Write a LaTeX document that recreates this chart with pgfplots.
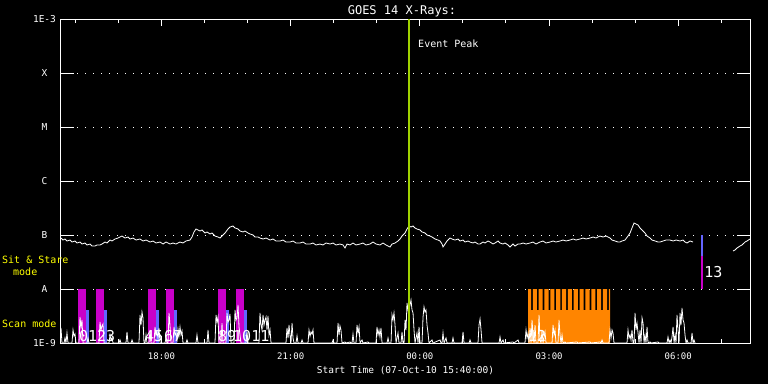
\documentclass[border=0pt]{standalone}
\usepackage{fontspec}
\setmainfont{DejaVu Sans Mono}
\usepackage{pgfplots}
\pgfplotsset{compat=1.18}
\definecolor{scanmag}{RGB}{200,0,200}
\definecolor{scanblue}{RGB}{100,100,255}
\definecolor{scanorange}{RGB}{255,133,0}
\definecolor{peakgreen}{RGB}{160,210,0}
\definecolor{labyellow}{RGB}{255,255,0}
\begin{document}
\begin{tikzpicture}
\path[use as bounding box, fill=black] (0,0) rectangle (768pt,384pt);
\begin{axis}[
  at={(61pt,41pt)}, anchor=south west,
  width=689pt, height=324pt, scale only axis,
  xmin=0, xmax=16, ymin=-9, ymax=-3,
  axis line style={white, line width=1pt},
  tick align=inside,
  major tick length=7pt, minor tick length=4pt,
  tick style={white, line width=1pt},
  xtick={2.3333,5.3333,8.3333,11.3333,14.3333},
  xticklabels={18:00,21:00,00:00,03:00,06:00},
  minor xtick={0.3333,1.3333,3.3333,4.3333,6.3333,7.3333,9.3333,10.3333,12.3333,13.3333,15.3333},
  ytick={-9,-8,-7,-6,-5,-4,-3},
  yticklabels={1E-9,A,B,C,M,X,1E-3},
  ytick style={/pgfplots/major tick length=13pt},
  ymajorgrids,
  major grid style={white, line width=1pt, dash pattern=on 1pt off 7pt},
  xticklabel style={font=\fontsize{9}{10}\selectfont, text=white, anchor=base, yshift=-16pt},
  yticklabel style={font=\fontsize{9.5}{11}\selectfont, text=white, anchor=center, xshift=-16.5pt},
  title={GOES 14 X-Rays:},
  every axis title/.style={at={(0.5,1)}, anchor=base, yshift=5pt, xshift=-3.5pt, font=\fontsize{12}{14}\selectfont, text=white},
  xlabel={Start Time (07-Oct-10 15:40:00)},
  every axis x label/.style={at={(0.5,0)}, anchor=base, yshift=-30pt, font=\fontsize{9.5}{11}\selectfont, text=white},
]
% scan bars (magenta) and (blue)
\addplot[fill=scanmag, draw=none] coordinates {(0.395,-9) (0.395,-8) (0.581,-8) (0.581,-9)};
\addplot[fill=scanblue, draw=none] coordinates {(0.581,-9) (0.581,-8.389) (0.650,-8.389) (0.650,-9)};
\addplot[fill=scanmag, draw=none] coordinates {(0.813,-9) (0.813,-8) (0.999,-8) (0.999,-9)};
\addplot[fill=scanblue, draw=none] coordinates {(0.999,-9) (0.999,-8.389) (1.068,-8.389) (1.068,-9)};
\addplot[fill=scanmag, draw=none] coordinates {(2.020,-9) (2.020,-8) (2.206,-8) (2.206,-9)};
\addplot[fill=scanblue, draw=none] coordinates {(2.206,-9) (2.206,-8.389) (2.276,-8.389) (2.276,-9)};
\addplot[fill=scanmag, draw=none] coordinates {(2.438,-9) (2.438,-8) (2.624,-8) (2.624,-9)};
\addplot[fill=scanblue, draw=none] coordinates {(2.624,-9) (2.624,-8.389) (2.694,-8.389) (2.694,-9)};
\addplot[fill=scanmag, draw=none] coordinates {(3.646,-9) (3.646,-8) (3.832,-8) (3.832,-9)};
\addplot[fill=scanblue, draw=none] coordinates {(3.832,-9) (3.832,-8.389) (3.902,-8.389) (3.902,-9)};
\addplot[fill=scanmag, draw=none] coordinates {(4.064,-9) (4.064,-8) (4.250,-8) (4.250,-9)};
\addplot[fill=scanblue, draw=none] coordinates {(4.250,-9) (4.250,-8.389) (4.320,-8.389) (4.320,-9)};
% orange scan block
\addplot[fill=scanorange, draw=none] coordinates {
(10.845,-9) (10.845,-8)
(10.915,-8) (10.915,-8.389) (10.955,-8.389) (10.955,-8)
(11.051,-8) (11.051,-8.389) (11.091,-8.389) (11.091,-8)
(11.187,-8) (11.187,-8.389) (11.227,-8.389) (11.227,-8)
(11.323,-8) (11.323,-8.389) (11.363,-8.389) (11.363,-8)
(11.459,-8) (11.459,-8.389) (11.499,-8.389) (11.499,-8)
(11.594,-8) (11.594,-8.389) (11.634,-8.389) (11.634,-8)
(11.730,-8) (11.730,-8.389) (11.770,-8.389) (11.770,-8)
(11.866,-8) (11.866,-8.389) (11.906,-8.389) (11.906,-8)
(12.002,-8) (12.002,-8.389) (12.042,-8.389) (12.042,-8)
(12.138,-8) (12.138,-8.389) (12.178,-8.389) (12.178,-8)
(12.274,-8) (12.274,-8.389) (12.314,-8.389) (12.314,-8)
(12.409,-8) (12.409,-8.389) (12.449,-8.389) (12.449,-8)
(12.545,-8) (12.545,-8.389) (12.585,-8.389) (12.585,-8)
(12.681,-8) (12.681,-8.389) (12.721,-8.389) (12.721,-8)
(12.750,-8) (12.750,-9)};
% sit & stare
\addplot[fill=scanblue, draw=none] coordinates {(14.863,-7.389) (14.863,-7) (14.909,-7) (14.909,-7.389)};
\addplot[fill=scanmag, draw=none] coordinates {(14.863,-8) (14.863,-7.389) (14.909,-7.389) (14.909,-8)};
% low channel spikes
\addplot[white, line width=0.8pt] coordinates {
(0.000,-8.722) (0.023,-9) (0.070,-9) (0.093,-8.907) (0.116,-9) (0.139,-8.815) (0.163,-9)
(0.255,-9) (0.279,-8.759) (0.302,-8.870) (0.325,-8.833) (0.348,-9)
(0.418,-9) (0.441,-8.519) (0.464,-8.704) (0.488,-8.574) (0.511,-9)
(0.604,-9) (0.627,-8.907) (0.650,-9)
(0.882,-9) (0.906,-8.611) (0.929,-8.759) (0.952,-8.685) (0.975,-8.648) (0.999,-9)
(1.115,-9) (1.138,-8.852) (1.161,-8.944) (1.184,-8.907) (1.208,-9)
(1.347,-9) (1.370,-8.944) (1.393,-9)
(1.509,-9) (1.533,-8.796) (1.556,-9)
(1.626,-9) (1.649,-8.944) (1.672,-9)
(1.811,-9) (1.835,-8.481) (1.858,-8.667) (1.881,-8.426) (1.904,-8.537) (1.927,-9)
(1.951,-9) (1.974,-8.852) (1.997,-9)
(2.044,-9) (2.067,-8.759) (2.090,-9)
(2.160,-9) (2.183,-8.704) (2.206,-8.852) (2.229,-8.796) (2.253,-8.907) (2.276,-8.722) (2.299,-9)
(2.415,-9) (2.438,-8.907) (2.462,-9)
(2.485,-9) (2.508,-8.444) (2.531,-8.667) (2.555,-9)
(2.601,-9) (2.624,-8.704) (2.647,-8.852) (2.671,-8.815) (2.694,-8.944) (2.717,-8.741) (2.740,-8.870) (2.764,-8.704) (2.787,-8.852) (2.810,-8.778) (2.833,-9)
(2.903,-9) (2.926,-8.944) (2.949,-9)
(3.135,-9) (3.158,-8.852) (3.182,-9)
(3.391,-9) (3.414,-8.759) (3.437,-9)
(3.576,-9) (3.600,-8.481) (3.623,-8.611) (3.646,-8.519) (3.669,-9)
(3.716,-9) (3.739,-8.630) (3.762,-9)
(3.832,-9) (3.855,-8.444) (3.878,-8.611) (3.902,-8.574) (3.925,-8.463) (3.948,-9)
(4.018,-9) (4.041,-8.389) (4.064,-8.574) (4.087,-8.537) (4.111,-8.296) (4.134,-8.704) (4.157,-8.852) (4.180,-9)
(4.296,-9) (4.320,-8.796) (4.343,-9)
(4.598,-9) (4.621,-8.444) (4.645,-8.667) (4.668,-8.759) (4.691,-8.481) (4.714,-8.667) (4.737,-8.574) (4.761,-8.519) (4.784,-8.759) (4.807,-8.500) (4.830,-8.852) (4.854,-8.759) (4.877,-9)
(5.225,-9) (5.248,-8.722) (5.272,-8.907) (5.295,-8.667) (5.318,-8.852) (5.341,-9) (5.365,-8.630) (5.388,-8.907) (5.411,-9)
(5.457,-9) (5.481,-8.870) (5.504,-9)
(5.574,-9) (5.597,-8.944) (5.620,-9)
(5.736,-9) (5.759,-8.759) (5.783,-8.870) (5.806,-8.796) (5.829,-8.833) (5.852,-8.759) (5.875,-9)
(6.293,-9) (6.317,-8.944) (6.340,-9)
(6.410,-9) (6.433,-8.630) (6.456,-8.852) (6.479,-8.685) (6.502,-8.759) (6.526,-9)
(6.595,-8.981) (6.619,-9) (6.711,-8.981) (6.735,-9)
(6.758,-9) (6.781,-8.833) (6.804,-9)
(6.851,-9) (6.874,-8.667) (6.898,-8.815) (6.921,-8.704) (6.944,-9)
(6.990,-8.944) (7.013,-9) (7.129,-8.981) (7.153,-9)
(7.315,-9) (7.338,-8.704) (7.362,-8.852) (7.385,-8.759) (7.408,-8.889) (7.431,-8.722) (7.455,-9)
(7.571,-9) (7.594,-8.907) (7.617,-9)
(7.664,-9) (7.687,-8.481) (7.710,-8.574) (7.733,-8.444) (7.757,-8.667) (7.780,-9)
(7.826,-8.815) (7.849,-9)
(7.896,-9) (7.919,-8.796) (7.942,-9)
(7.966,-9) (7.989,-8.574) (8.012,-8.759) (8.035,-8.259) (8.059,-8.389) (8.082,-8.167) (8.105,-8.296) (8.128,-8.204) (8.151,-8.389) (8.175,-8.444) (8.198,-8.759) (8.221,-9)
(8.267,-8.815) (8.291,-9) (8.314,-8.704) (8.337,-9)
(8.384,-9) (8.407,-8.519) (8.430,-8.333) (8.453,-8.426) (8.476,-8.389) (8.500,-8.667) (8.523,-8.815) (8.546,-9)
(8.616,-8.944) (8.639,-9)
(8.802,-8.944) (8.825,-9)
(8.848,-9) (8.871,-8.815) (8.895,-9) (8.941,-8.907) (8.964,-9)
(9.080,-9) (9.103,-8.907) (9.127,-9)
(9.312,-9) (9.336,-8.796) (9.359,-9)
(9.475,-9) (9.498,-8.944) (9.521,-9)
(9.684,-9) (9.707,-8.667) (9.731,-8.556) (9.754,-8.759) (9.777,-9)
(10.172,-9) (10.195,-8.889) (10.218,-9) (10.265,-8.944) (10.288,-9)
(10.497,-8.981) (10.520,-9) (10.613,-8.944) (10.636,-9)
(10.775,-9) (10.799,-8.759) (10.822,-8.907) (10.845,-8.815) (10.868,-9) (10.892,-8.722) (10.915,-9) (10.938,-8.574) (10.961,-8.852) (10.985,-9) (11.008,-8.667) (11.031,-9)
(11.077,-9) (11.101,-8.481) (11.124,-8.944) (11.147,-9) (11.170,-8.759) (11.193,-9) (11.240,-8.796) (11.263,-9)
(11.403,-9) (11.426,-8.667) (11.449,-8.852) (11.472,-8.759) (11.495,-9)
(11.542,-9) (11.565,-8.574) (11.588,-8.852) (11.612,-9) (11.635,-8.852) (11.658,-9) (11.704,-8.981) (11.728,-9)
(11.983,-8.981) (12.006,-9) (12.285,-8.981) (12.308,-9) (12.517,-8.981) (12.540,-9) (12.564,-8.944) (12.587,-9)
(12.726,-9) (12.749,-8.759) (12.773,-8.907) (12.796,-8.759) (12.819,-8.815) (12.842,-9)
(13.144,-9) (13.167,-8.759) (13.191,-8.907) (13.214,-8.852) (13.237,-8.944) (13.260,-8.759) (13.284,-9)
(13.307,-9) (13.330,-8.444) (13.353,-8.759) (13.376,-8.630) (13.400,-8.815) (13.423,-9) (13.446,-8.759) (13.469,-9) (13.493,-8.537) (13.516,-8.630) (13.539,-9) (13.562,-8.852) (13.585,-9) (13.609,-8.704) (13.632,-9)
(13.679,-8.981) (13.702,-9) (13.864,-8.981) (13.887,-9)
(14.073,-9) (14.096,-8.889) (14.120,-9) (14.143,-8.944) (14.166,-9) (14.189,-8.889) (14.213,-8.704) (14.236,-9) (14.259,-8.852) (14.282,-9)
(14.305,-8.481) (14.329,-8.759) (14.352,-9) (14.375,-8.444) (14.398,-8.667) (14.421,-8.352) (14.445,-8.574) (14.468,-8.630) (14.491,-8.852) (14.514,-9)
(14.538,-8.944) (14.561,-9) (14.631,-9) (14.654,-8.815) (14.677,-9) (14.700,-8.944) (14.723,-9)};
% GOES flux (long channel)
\addplot[white, line width=0.8pt] coordinates {
(0.000,-7.056) (0.046,-7.093) (0.093,-7.074) (0.139,-7.111) (0.209,-7.093) (0.255,-7.130) (0.325,-7.111) (0.372,-7.148)
(0.441,-7.130) (0.488,-7.167) (0.557,-7.148) (0.604,-7.185) (0.673,-7.167) (0.720,-7.204) (0.790,-7.204) (0.836,-7.185)
(0.906,-7.185) (0.952,-7.167) (1.022,-7.130) (1.068,-7.148) (1.138,-7.093) (1.184,-7.111) (1.254,-7.074) (1.324,-7.056)
(1.370,-7.037) (1.417,-7.019) (1.486,-7.056) (1.556,-7.037) (1.602,-7.074) (1.672,-7.056) (1.742,-7.093) (1.835,-7.074)
(1.904,-7.111) (1.974,-7.093) (2.067,-7.130) (2.137,-7.111) (2.206,-7.148) (2.299,-7.130) (2.369,-7.167) (2.438,-7.130)
(2.531,-7.167) (2.601,-7.148) (2.671,-7.167) (2.764,-7.130) (2.833,-7.148) (2.903,-7.111) (2.996,-7.093) (3.042,-7.037)
(3.089,-6.944) (3.135,-6.889) (3.182,-6.907) (3.228,-6.926) (3.274,-6.907) (3.344,-6.963) (3.391,-6.944) (3.460,-6.981)
(3.507,-6.963) (3.576,-7.019) (3.646,-7.037) (3.693,-7.056) (3.739,-7.019) (3.809,-6.963) (3.878,-6.889) (3.925,-6.852)
(3.994,-6.833) (4.041,-6.870) (4.111,-6.889) (4.157,-6.926) (4.227,-6.944) (4.273,-6.926) (4.343,-6.963) (4.389,-6.981)
(4.459,-7.000) (4.505,-7.037) (4.575,-7.037) (4.622,-7.056) (4.691,-7.074) (4.761,-7.056) (4.854,-7.093) (4.923,-7.074)
(4.993,-7.111) (5.086,-7.111) (5.155,-7.093) (5.225,-7.130) (5.318,-7.130) (5.388,-7.111) (5.457,-7.148) (5.550,-7.148)
(5.620,-7.130) (5.690,-7.167) (5.783,-7.167) (5.852,-7.148) (5.922,-7.185) (6.015,-7.167) (6.084,-7.185) (6.154,-7.148)
(6.247,-7.167) (6.317,-7.148) (6.386,-7.185) (6.479,-7.167) (6.549,-7.185) (6.595,-7.241) (6.642,-7.167) (6.712,-7.185)
(6.781,-7.148) (6.851,-7.185) (6.944,-7.167) (7.013,-7.148) (7.083,-7.185) (7.176,-7.167) (7.246,-7.130) (7.315,-7.167)
(7.408,-7.185) (7.478,-7.148) (7.547,-7.185) (7.641,-7.222) (7.687,-7.167) (7.757,-7.148) (7.826,-7.111) (7.873,-7.074)
(7.919,-7.019) (7.989,-6.963) (8.035,-6.889) (8.082,-6.833) (8.128,-6.852) (8.175,-6.833) (8.221,-6.870) (8.267,-6.889)
(8.337,-6.907) (8.384,-6.944) (8.453,-6.963) (8.500,-7.000) (8.569,-7.019) (8.616,-7.037) (8.686,-7.074) (8.755,-7.093)
(8.802,-7.111) (8.848,-7.167) (8.871,-7.222) (8.918,-7.167) (8.964,-7.111) (9.034,-7.056) (9.080,-7.074) (9.150,-7.093)
(9.220,-7.074) (9.266,-7.111) (9.336,-7.093) (9.382,-7.130) (9.452,-7.111) (9.498,-7.130) (9.568,-7.148) (9.615,-7.130)
(9.684,-7.167) (9.731,-7.167) (9.800,-7.130) (9.847,-7.148) (9.916,-7.111) (9.963,-7.130) (10.032,-7.167) (10.079,-7.148)
(10.149,-7.111) (10.195,-7.148) (10.265,-7.167) (10.311,-7.148) (10.381,-7.185) (10.427,-7.222) (10.497,-7.167) (10.543,-7.204)
(10.613,-7.167) (10.660,-7.167) (10.729,-7.148) (10.799,-7.167) (10.892,-7.148) (10.961,-7.130) (11.031,-7.167) (11.124,-7.130)
(11.193,-7.111) (11.263,-7.148) (11.356,-7.130) (11.426,-7.111) (11.495,-7.130) (11.589,-7.111) (11.658,-7.093) (11.728,-7.111)
(11.821,-7.093) (11.891,-7.074) (11.960,-7.093) (12.053,-7.074) (12.123,-7.056) (12.192,-7.074) (12.285,-7.056) (12.355,-7.037)
(12.424,-7.056) (12.517,-7.019) (12.587,-7.037) (12.657,-7.019) (12.750,-7.056) (12.796,-7.093) (12.866,-7.111) (12.935,-7.130)
(12.982,-7.130) (13.028,-7.111) (13.098,-7.093) (13.167,-7.019) (13.214,-6.963) (13.260,-6.870) (13.307,-6.778) (13.353,-6.796)
(13.400,-6.815) (13.446,-6.870) (13.493,-6.907) (13.562,-6.963) (13.609,-7.019) (13.679,-7.056) (13.725,-7.093) (13.795,-7.111)
(13.864,-7.130) (13.911,-7.130) (13.980,-7.111) (14.050,-7.093) (14.143,-7.093) (14.213,-7.111) (14.282,-7.093) (14.375,-7.111)
(14.445,-7.093) (14.491,-7.130) (14.538,-7.148) (14.608,-7.111) (14.677,-7.130)};
\addplot[white, line width=0.8pt] coordinates {
(15.606,-7.296) (15.652,-7.278) (15.699,-7.241) (15.768,-7.204) (15.815,-7.185) (15.885,-7.130) (15.931,-7.111) (16.000,-7.074)};
% event peak
\addplot[peakgreen, line width=2.4pt] coordinates {(8.082,-9) (8.082,-3)};
\node[anchor=base west, inner sep=0, text=white, font=\fontsize{10}{12}\selectfont] at (axis cs:8.291,-3.519) {Event Peak};
% scan numbers
\node[anchor=base west, inner sep=0, text=white, font=\fontsize{15}{16}\selectfont] at (axis cs:0.418,-8.981) {01};
\node[anchor=base west, inner sep=0, text=white, font=\fontsize{15}{16}\selectfont] at (axis cs:0.836,-8.981) {23};
\node[anchor=base west, inner sep=0, text=white, font=\fontsize{15}{16}\selectfont] at (axis cs:1.951,-8.981) {45};
\node[anchor=base west, inner sep=0, text=white, font=\fontsize{15}{16}\selectfont] at (axis cs:2.392,-8.981) {67};
\node[anchor=base west, inner sep=0, text=white, font=\fontsize{15}{16}\selectfont] at (axis cs:3.646,-8.981) {89};
\node[anchor=base west, inner sep=0, text=white, font=\fontsize{15}{16}\selectfont] at (axis cs:3.994,-8.981) {1011};
\node[anchor=base west, inner sep=0, text=white, font=\fontsize{15}{16}\selectfont] at (axis cs:10.845,-8.981) {12};
\node[anchor=base west, inner sep=0, text=white, font=\fontsize{15}{16}\selectfont] at (axis cs:14.933,-7.796) {13};
\end{axis}
\node[anchor=base west, inner sep=0, text=labyellow, font=\fontsize{10}{12}\selectfont] at (2pt,121pt) {Sit \& Stare};
\node[anchor=base west, inner sep=0, text=labyellow, font=\fontsize{10}{12}\selectfont] at (13pt,109pt) {mode};
\node[anchor=base west, inner sep=0, text=labyellow, font=\fontsize{10}{12}\selectfont] at (2pt,57pt) {Scan mode};
\end{tikzpicture}
\end{document}
